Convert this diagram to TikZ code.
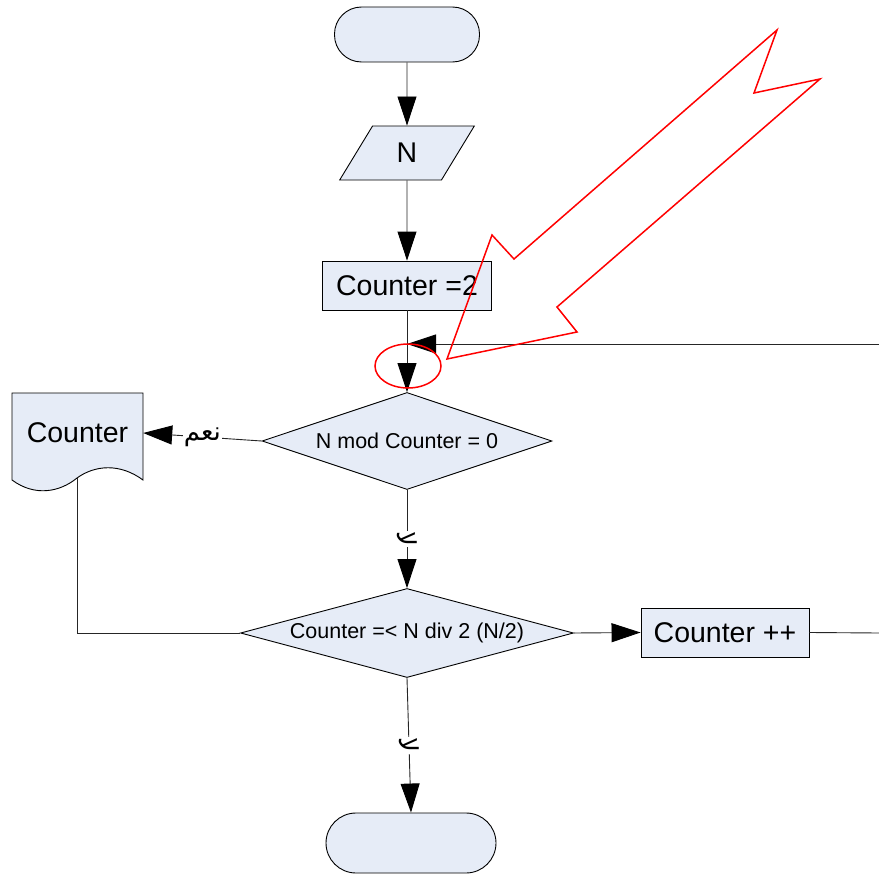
\documentclass[tikz,border=0pt]{standalone}
\usepackage{fontspec}
\setmainfont{Liberation Sans}
\newfontfamily\arabicfont[Script=Arabic]{DejaVu Sans}
\TeXXeTstate=1
\usetikzlibrary{positioning,calc,arrows.meta,shapes.geometric}
\definecolor{boxfill}{RGB}{230,236,247}
\newcommand\lgfont{\fontsize{28.5}{34}\selectfont}
\newcommand\mdfont{\fontsize{21.5}{26}\selectfont}
\tikzset{shp/.style = {draw,fill=boxfill,line width=0.9pt,inner sep=0pt},
         term/.style = {shp,rectangle,rounded corners=27pt},
         proc/.style = {shp,rectangle,font=\lgfont},
         io/.style = {shp,trapezium,trapezium left angle=63.4,trapezium right angle=116.6,trapezium stretches,font=\lgfont},
         dec/.style = {shp,diamond,font=\mdfont},
         flow/.style = {draw=black!85,line width=0.9pt,-{Triangle[length=29pt,width=19pt,color=black]}},
         wire/.style = {draw=black!85,line width=0.9pt},
         lbl/.style = {fill=white,inner sep=1pt,font=\arabicfont\fontsize{26}{30}\selectfont}}

\begin{document}
\begin{tikzpicture}[x=1pt,y=-1pt]
    \useasboundingbox (0,0) rectangle (879,875);
    \node [term,minimum width=145pt,minimum height=55pt] (start) at (407,34.5) {};
    \node [io,minimum width=135pt,minimum height=54pt] (inp) at (407,153) {N};
    \node [proc,minimum width=169pt,minimum height=49pt] (init) at (407,285.5) {Counter =2};
    \node [dec,aspect=2.99,minimum width=290pt,minimum height=97pt] (chk) at (407,441) {N mod Counter = 0};
    \node [dec,aspect=3.74,minimum width=333pt,minimum height=89pt] (lim) at (407,633) {Counter =< N div 2 (N/2)};
    \node [proc,minimum width=168pt,minimum height=49pt] (inc) at (725,632.5) {Counter ++};
    \node [term,rounded corners=30pt,minimum width=170pt,minimum height=60pt] (stop) at (411,843) {};
    \draw [shp] (12,393) -- (143,393) -- (143,480)
        .. controls (120,463) and (95,465) .. (77,478)
        .. controls (60,492) and (35,497) .. (12,480) -- cycle;
    \node [minimum width=131pt,minimum height=87pt,inner sep=0pt,font=\lgfont] (doc) at (77.5,433) {Counter};
    \coordinate (docb) at (77,478);
    \coordinate (backR) at (879,344);
    \coordinate (loopR) at (879,633);
    \draw [flow] (start) -- (inp);
    \draw [flow] (inp) -- (init);
    \draw [flow] (init) -- (chk);
    \draw [flow] (backR) -- (backR -| init.south);
    \draw [flow] (chk.west) -- node [lbl] {\beginR نعم\endR} (doc.east);
    \draw [flow] (chk.south) -- node [lbl,rotate=-90] {\beginR لا\endR} (lim.north);
    \draw [wire] (docb) |- (lim.west);
    \draw [flow] (lim.east) -- (inc.west);
    \draw [wire] (inc.east) -- (loopR);
    \draw [flow] (lim.south) -- node [lbl,rotate=-90] {\beginR لا\endR} (stop.north);
    \draw [red,line width=1.5pt] (408,366) ellipse [x radius=33pt,y radius=22pt];
    \draw [red,line width=1.5pt,line join=miter] (447,359) -- (492,235) -- (514,259) -- (777,30)
        -- (754,93) -- (820,79) -- (557,307) -- (577,332) -- cycle;
\end{tikzpicture}
\end{document}
